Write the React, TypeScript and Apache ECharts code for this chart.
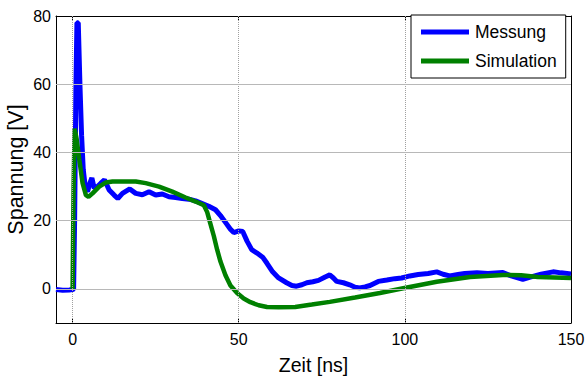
import React, { useEffect, useRef } from "react";
import * as echarts from "echarts";

const xTicks = [0, 50, 100, 150];
const yTicks = [0, 20, 40, 60, 80];
const xGrid = [0, 50, 100];
const yGrid = [0, 20, 40, 60];

const messungX = [-5, -3, -1, 0, 0.3, 0.6, 1.0, 1.3, 1.7, 2.2, 2.7, 3.2, 3.8, 4.5, 5.2, 5.8, 6.5, 7.5, 8.5, 9.6, 11, 12.5, 13.6, 15, 17.2, 19, 21, 23, 25, 27, 29, 31, 33, 35, 37, 39, 41, 43, 44.5, 46, 47.5, 48.5, 50, 51.2, 52.5, 53.9, 55.5, 57.2, 58.5, 60.2, 62, 64.4, 66, 67.4, 69, 70.5, 72.3, 74, 76, 77.4, 78.5, 79.5, 81.5, 83.4, 85, 86.4, 88, 89.5, 92, 94.6, 97, 99, 101.5, 104, 107, 109.6, 111.5, 113.5, 116, 118, 121.7, 125, 129.5, 132, 135.5, 138, 141, 144.6, 147, 150];
const messungY = [-0.2, -0.4, -0.3, -0.2, 0, 20, 60, 78, 78, 60, 45, 35, 30, 28.5, 31, 32.5, 29.5, 30, 31, 32, 29, 27.5, 26.5, 28, 29.3, 28, 27.6, 28.5, 27.5, 27.8, 27, 26.8, 26.5, 26.3, 25.8, 25, 24.2, 23.2, 21.5, 19.5, 17.5, 16.5, 17, 16.8, 14, 11.5, 10.5, 9.3, 7.5, 5, 3.2, 1.8, 1, 0.8, 1.2, 1.8, 2.1, 2.5, 3.5, 4.1, 3.2, 2.2, 1.8, 1.2, 0.5, 0.3, 0.6, 1, 2.2, 2.6, 3, 3.2, 3.8, 4.2, 4.5, 5, 4.3, 3.8, 4.2, 4.5, 4.7, 4.5, 4.8, 3.8, 2.8, 3.5, 4.3, 5, 4.7, 4.4];

const simX = [0, 0.3, 0.6, 1.2, 2, 3, 4, 4.8, 6, 8, 10, 12, 19, 22, 26, 30, 34, 37, 39.5, 40.5, 41.5, 42.5, 43.5, 44.5, 46, 47.5, 49.5, 51.5, 53.5, 56, 58.5, 62, 67, 72, 77.4, 85, 92.5, 99.5, 109.6, 119.6, 129.5, 135, 140, 150];
const simY = [0, 30, 47, 44, 38, 31, 27.5, 27, 28, 30, 31.2, 31.5, 31.5, 31, 30, 28.5, 26.8, 25.6, 24.5, 22.5, 19, 15.5, 11.5, 8, 4, 1, -1.2, -2.8, -3.9, -4.8, -5.3, -5.4, -5.3, -4.6, -3.8, -2.5, -1.2, 0.2, 2.1, 3.5, 4.1, 4, 3.5, 3.2];

const FONT = "'Liberation Sans', Arial, sans-serif";

export default function App() {
  const ref = useRef<HTMLDivElement>(null);
  useEffect(() => {
    if (!ref.current) return;
    const chart = echarts.init(ref.current, undefined, { renderer: "svg" });
    const pairs = (xs: number[], ys: number[]) => xs.map((x, i) => [x, ys[i]]);
    const axisCommon = {
      type: "value" as const,
      axisLine: { show: true, onZero: false, lineStyle: { color: "#000", width: 1 } },
      splitLine: { show: false },
    };
    chart.setOption({
      animation: false,
      textStyle: { fontFamily: FONT },
      grid: { left: 56, right: 14, top: 16, bottom: 55, containLabel: false, outerBoundsMode: "none" },
      xAxis: [
        {
          ...axisCommon,
          min: -5,
          max: 150,
          position: "bottom",
          axisTick: { show: true, inside: true, length: 4, customValues: xTicks, lineStyle: { color: "#000" } },
          axisLabel: { customValues: xTicks, color: "#000", fontSize: 16, margin: 8, fontFamily: FONT },
          name: "Zeit [ns]",
          nameLocation: "middle",
          nameGap: 32,
          nameMoveOverlap: false,
          nameTextStyle: { color: "#000", fontSize: 19.5, fontFamily: FONT },
        },
        {
          ...axisCommon,
          min: -5,
          max: 150,
          position: "top",
          axisTick: { show: true, inside: true, length: 4, customValues: xTicks, lineStyle: { color: "#000" } },
          axisLabel: { show: false },
        },
      ],
      yAxis: [
        {
          ...axisCommon,
          min: -10,
          max: 80,
          position: "left",
          axisTick: { show: true, inside: true, length: 4, customValues: yTicks, lineStyle: { color: "#000" } },
          axisLabel: { customValues: yTicks, color: "#000", fontSize: 16, margin: 5, fontFamily: FONT },
          name: "Spannung [V]",
          nameLocation: "middle",
          nameGap: 29,
          nameMoveOverlap: false,
          nameTextStyle: { color: "#000", fontSize: 21.5, fontFamily: FONT },
        },
        {
          ...axisCommon,
          min: -10,
          max: 80,
          position: "right",
          axisTick: { show: true, inside: true, length: 4, customValues: yTicks, lineStyle: { color: "#000" } },
          axisLabel: { show: false },
        },
      ],
      legend: {
        data: ["Messung", "Simulation"],
        orient: "vertical",
        left: 411,
        top: 15,
        icon: "rect",
        itemWidth: 48,
        itemHeight: 5,
        itemGap: 9,
        padding: [7, 9, 7, 10],
        borderColor: "#000",
        borderWidth: 1,
        backgroundColor: "#fff",
        textStyle: { color: "#000", fontSize: 17.5, lineHeight: 20, fontFamily: FONT, padding: [0, 0, 0, 1] },
      },
      series: [
        {
          type: "line",
          name: "grid",
          data: [],
          silent: true,
          z: 1,
          markLine: {
            silent: true,
            symbol: "none",
            label: { show: false },
            animation: false,
            data: [
              ...xGrid.map((v) => ({ xAxis: v, lineStyle: { color: "#a0a0a0", width: 1, type: [1, 1] } })),
              ...yGrid.map((v) => ({ yAxis: v, lineStyle: { color: "#b8b8b8", width: 1.2, type: "solid" } })),
            ],
          },
        },
        {
          type: "line",
          name: "Messung",
          data: pairs(messungX, messungY),
          showSymbol: false,
          symbol: "none",
          z: 3,
          lineStyle: { color: "#0000ff", width: 5 },
          itemStyle: { color: "#0000ff" },
        },
        {
          type: "line",
          name: "Simulation",
          data: pairs(simX, simY),
          showSymbol: false,
          symbol: "none",
          z: 4,
          lineStyle: { color: "#008000", width: 4.5 },
          itemStyle: { color: "#008000" },
        },
      ],
    });
    return () => chart.dispose();
  }, []);
  return <div ref={ref} style={{ width: 585, height: 378, position: "absolute", left: 0, top: 0, background: "#fff" }} />;
}
